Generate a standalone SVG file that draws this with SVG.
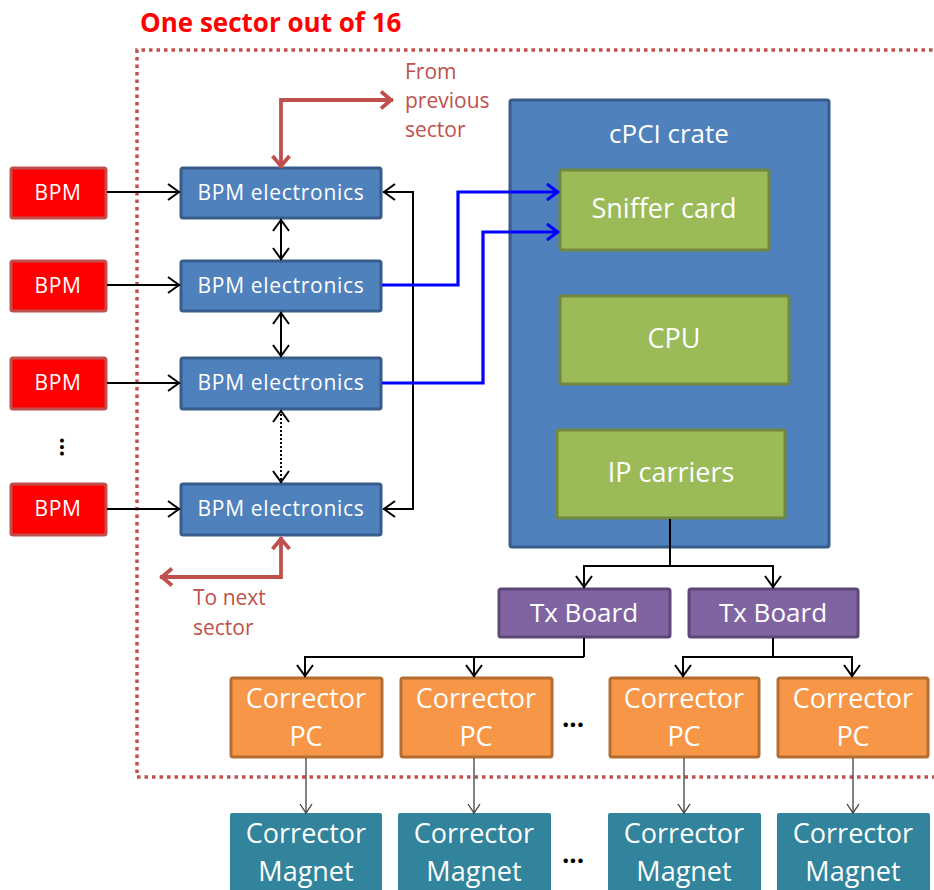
<svg xmlns="http://www.w3.org/2000/svg" width="934" height="890" viewBox="0 0 934 890">
  <style>
    text { font-family: 'Open Sans', 'Liberation Sans', sans-serif; }
    .lbl { fill: #fff; text-anchor: middle; }
    .sm { font-size: 21px; letter-spacing: 0.7px; }
    .md { font-size: 26px; }
    .lg { font-size: 27px; }
    .bpm { fill: #FF0000; stroke: #C0504D; stroke-width: 3; }
    .elec { fill: #4F81BD; stroke: #385D8A; stroke-width: 3; }
    .card { fill: #9BBB59; stroke: #71893F; stroke-width: 3; }
    .tx { fill: #8064A2; stroke: #5C4776; stroke-width: 3; }
    .pc { fill: #F79646; stroke: #B66D31; stroke-width: 3; }
    .mag { fill: #31849B; }
    .note { fill: #C0504D; font-size: 21px; }
    .dots { fill: #000; font-weight: bold; text-anchor: middle; }
    .k { fill: none; stroke: #000; stroke-width: 2; }
    .b { fill: none; stroke: #0000FF; stroke-width: 3.2; }
    .r { fill: none; stroke: #C0504D; stroke-width: 3.8; }
    .t { fill: none; stroke: #404040; stroke-width: 1.3; }
  </style>
  <defs>
    <marker id="aK" viewBox="-14 -10 16 20" markerWidth="16" markerHeight="20" markerUnits="userSpaceOnUse" refX="0" refY="0" orient="auto-start-reverse" overflow="visible">
      <path d="M-12,-8 L-1,0 L-12,8" fill="none" stroke="#000" stroke-width="2"/>
    </marker>
    <marker id="aB" viewBox="-14 -10 16 20" markerWidth="16" markerHeight="20" markerUnits="userSpaceOnUse" refX="0" refY="0" orient="auto-start-reverse" overflow="visible">
      <path d="M-12,-8 L-1.5,0 L-12,8" fill="none" stroke="#0000FF" stroke-width="3.2"/>
    </marker>
    <marker id="aR" viewBox="-14 -10 16 20" markerWidth="16" markerHeight="20" markerUnits="userSpaceOnUse" refX="0" refY="0" orient="auto-start-reverse" overflow="visible">
      <path d="M-12,-8.5 L-2,0 L-12,8.5" fill="none" stroke="#C0504D" stroke-width="3.8"/>
    </marker>
    <marker id="aT" viewBox="-10 -8 12 16" markerWidth="12" markerHeight="16" markerUnits="userSpaceOnUse" refX="0" refY="0" orient="auto" overflow="visible">
      <path d="M-9,-6 L0,0 L-9,6" fill="none" stroke="#404040" stroke-width="1.3"/>
    </marker>
  </defs>

  <rect width="934" height="890" fill="#fff"/>

  <!-- sector boundary -->
  <g id="sector">
    <path d="M940,50 H137 V777 H940" fill="none" stroke="#C0504D" stroke-width="3.5" stroke-dasharray="3.5 4"/>
    <text x="140" y="32" font-size="26" font-weight="bold" fill="#FF0000">One sector out of 16</text>
  </g>

  <!-- BPMs -->
  <g id="bpm1"><rect class="bpm" x="11" y="168" width="95" height="50" rx="2"/><text class="lbl sm" x="58" y="200">BPM</text></g>
  <g id="bpm2"><rect class="bpm" x="11" y="261" width="95" height="50" rx="2"/><text class="lbl sm" x="58" y="293">BPM</text></g>
  <g id="bpm3"><rect class="bpm" x="11" y="358" width="95" height="51" rx="2"/><text class="lbl sm" x="58" y="390">BPM</text></g>
  <g id="bpm4"><rect class="bpm" x="11" y="484" width="95" height="51" rx="2"/><text class="lbl sm" x="58" y="516">BPM</text></g>
  <g id="bpm-more"><text class="dots" font-size="23" transform="translate(60,447) rotate(90)" x="0" y="0">...</text></g>

  <!-- BPM electronics -->
  <g id="elec1"><rect class="elec" x="181" y="168" width="200" height="50" rx="2"/><text class="lbl sm" x="281" y="200">BPM electronics</text></g>
  <g id="elec2"><rect class="elec" x="181" y="261" width="200" height="50" rx="2"/><text class="lbl sm" x="281" y="293">BPM electronics</text></g>
  <g id="elec3"><rect class="elec" x="181" y="358" width="200" height="51" rx="2"/><text class="lbl sm" x="281" y="390">BPM electronics</text></g>
  <g id="elec4"><rect class="elec" x="181" y="484" width="200" height="51" rx="2"/><text class="lbl sm" x="281" y="516">BPM electronics</text></g>

  <!-- notes -->
  <g id="from-prev">
    <text class="note" x="405" y="79">From</text>
    <text class="note" x="405" y="108">previous</text>
    <text class="note" x="405" y="137">sector</text>
  </g>
  <g id="to-next">
    <text class="note" x="193" y="605">To next</text>
    <text class="note" x="193" y="635">sector</text>
  </g>

  <!-- cPCI crate -->
  <g id="crate"><rect class="elec" x="510" y="100" width="319" height="447" rx="2"/><text class="lbl md" x="669" y="143">cPCI crate</text></g>
  <g id="sniffer"><rect class="card" x="560" y="170" width="209" height="80" rx="2"/><text class="lbl lg" x="664" y="218">Sniffer card</text></g>
  <g id="cpu"><rect class="card" x="560" y="296" width="229" height="88" rx="2"/><text class="lbl lg" x="674" y="348">CPU</text></g>
  <g id="ip"><rect class="card" x="557" y="430" width="228" height="88" rx="2"/><text class="lbl lg" x="671" y="482">IP carriers</text></g>

  <!-- Tx boards -->
  <g id="tx1"><rect class="tx" x="499" y="589" width="171" height="48" rx="2"/><text class="lbl md" x="584" y="622">Tx Board</text></g>
  <g id="tx2"><rect class="tx" x="689" y="589" width="169" height="48" rx="2"/><text class="lbl md" x="773" y="622">Tx Board</text></g>

  <!-- corrector PCs -->
  <g id="pc1"><rect class="pc" x="231" y="678" width="151" height="79" rx="2"/><text class="lbl lg" x="306" y="708">Corrector</text><text class="lbl lg" x="306" y="746">PC</text></g>
  <g id="pc2"><rect class="pc" x="401" y="678" width="151" height="79" rx="2"/><text class="lbl lg" x="476" y="708">Corrector</text><text class="lbl lg" x="476" y="746">PC</text></g>
  <g id="pc3"><rect class="pc" x="610" y="678" width="149" height="79" rx="2"/><text class="lbl lg" x="684" y="708">Corrector</text><text class="lbl lg" x="684" y="746">PC</text></g>
  <g id="pc4"><rect class="pc" x="778" y="678" width="150" height="79" rx="2"/><text class="lbl lg" x="853" y="708">Corrector</text><text class="lbl lg" x="853" y="746">PC</text></g>
  <g id="pc-more"><text class="dots" font-size="26" x="573" y="727">...</text></g>

  <!-- corrector magnets -->
  <g id="mag1"><rect class="mag" x="230" y="813" width="152" height="90" rx="2"/><text class="lbl lg" x="306" y="843">Corrector</text><text class="lbl lg" x="306" y="881">Magnet</text></g>
  <g id="mag2"><rect class="mag" x="398" y="813" width="153" height="90" rx="2"/><text class="lbl lg" x="474" y="843">Corrector</text><text class="lbl lg" x="474" y="881">Magnet</text></g>
  <g id="mag3"><rect class="mag" x="608" y="813" width="153" height="90" rx="2"/><text class="lbl lg" x="684" y="843">Corrector</text><text class="lbl lg" x="684" y="881">Magnet</text></g>
  <g id="mag4"><rect class="mag" x="777" y="813" width="153" height="90" rx="2"/><text class="lbl lg" x="853" y="843">Corrector</text><text class="lbl lg" x="853" y="881">Magnet</text></g>
  <g id="mag-more"><text class="dots" font-size="26" x="573" y="863">...</text></g>

  <!-- connectors, drawn last so they sit on top of the crate -->
  <g id="connectors">
    <!-- BPM to electronics -->
    <line class="k" x1="107" y1="192" x2="180" y2="192" marker-end="url(#aK)"/>
    <line class="k" x1="107" y1="285" x2="180" y2="285" marker-end="url(#aK)"/>
    <line class="k" x1="107" y1="383" x2="180" y2="383" marker-end="url(#aK)"/>
    <line class="k" x1="107" y1="509" x2="180" y2="509" marker-end="url(#aK)"/>
    <!-- links between electronics -->
    <line class="k" x1="281" y1="219" x2="281" y2="260" marker-start="url(#aK)" marker-end="url(#aK)"/>
    <line class="k" x1="281" y1="312" x2="281" y2="357" marker-start="url(#aK)" marker-end="url(#aK)"/>
    <line class="k" x1="281" y1="410" x2="281" y2="483" stroke-dasharray="2 2" marker-start="url(#aK)" marker-end="url(#aK)"/>
    <!-- right-hand loop -->
    <path class="k" d="M383,192 H413 V509 H383" marker-start="url(#aK)" marker-end="url(#aK)"/>
    <!-- to the sniffer card -->
    <path class="b" d="M382,285 H458 V192 H559" marker-end="url(#aB)"/>
    <path class="b" d="M382,383 H483 V232 H559" marker-end="url(#aB)"/>
    <!-- neighbour sectors -->
    <path class="r" d="M281,168 V100 H393" marker-start="url(#aR)" marker-end="url(#aR)"/>
    <path class="r" d="M281,537 V577 H160" marker-start="url(#aR)" marker-end="url(#aR)"/>
    <!-- IP carriers to Tx boards -->
    <path class="k" d="M670,519 V566"/>
    <path class="k" d="M584,588 V566 H773 V588" marker-start="url(#aK)" marker-end="url(#aK)"/>
    <!-- Tx boards to corrector PCs -->
    <path class="k" d="M584,638 V657"/>
    <path class="k" d="M305,677 V657 H584" marker-start="url(#aK)"/>
    <line class="k" x1="474" y1="657" x2="474" y2="677" marker-end="url(#aK)"/>
    <path class="k" d="M773,638 V657"/>
    <path class="k" d="M683,677 V657 H852 V677" marker-start="url(#aK)" marker-end="url(#aK)"/>
    <!-- PCs to magnets -->
    <line class="t" x1="306" y1="758" x2="306" y2="813" marker-end="url(#aT)"/>
    <line class="t" x1="474" y1="758" x2="474" y2="813" marker-end="url(#aT)"/>
    <line class="t" x1="684" y1="758" x2="684" y2="813" marker-end="url(#aT)"/>
    <line class="t" x1="853" y1="758" x2="853" y2="813" marker-end="url(#aT)"/>
  </g>
</svg>
